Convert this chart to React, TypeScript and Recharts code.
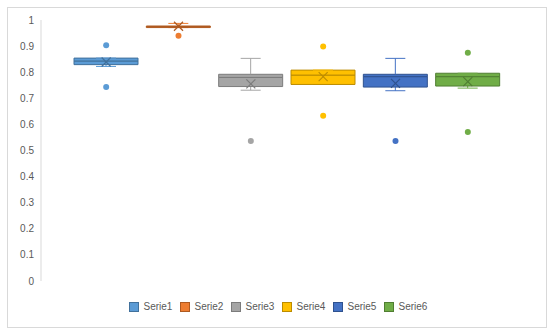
import { Bar, Cell, ComposedChart, Scatter, XAxis, YAxis } from "recharts";

const categories = ["Serie1", "Serie2", "Serie3", "Serie4", "Serie5", "Serie6"];
const fills = ["#5B9BD5", "#ED7D31", "#A5A5A5", "#FFC000", "#4472C4", "#70AD47"];
const strokes = ["#41719C", "#AE5A21", "#7C7C7C", "#BC8C00", "#2F528F", "#507E32"];

// box plot statistics
const whiskerLow = [0.822, 0.971, 0.731, 0.753, 0.729, 0.739];
const quartile1 = [0.829, 0.971, 0.745, 0.753, 0.743, 0.747];
const medians = [0.843, 0.975, 0.78, 0.789, 0.783, 0.783];
const quartile3 = [0.854, 0.977, 0.792, 0.808, 0.792, 0.796];
const whiskerHigh = [0.854, 0.987, 0.853, 0.808, 0.853, 0.796];
const means = [0.839, 0.976, 0.755, 0.783, 0.757, 0.764];
const highOutliers = [0.903, null, null, 0.898, null, 0.875];
const lowOutliers = [0.743, 0.94, 0.536, 0.633, 0.536, 0.571];

const yTicks = [0, 0.1, 0.2, 0.3, 0.4, 0.5, 0.6, 0.7, 0.8, 0.9, 1];

const data = categories.map((name, i) => ({
	name,
	idx: i,
	base: whiskerLow[i],
	lowWhisker: quartile1[i] - whiskerLow[i],
	lowerBox: medians[i] - quartile1[i],
	upperBox: quartile3[i] - medians[i],
	highWhisker: whiskerHigh[i] - quartile3[i],
	mean: means[i],
	outHigh: highOutliers[i],
	outLow: lowOutliers[i],
}));

const CAP = 10;

function LowWhisker(props: any) {
	const { x, y, width, height, payload } = props;
	const cx = x + width / 2;
	const bottom = y + height;
	return (
		<g stroke={fills[payload.idx]} strokeWidth={1}>
			<line x1={cx} x2={cx} y1={y} y2={bottom} />
			<line x1={cx - CAP} x2={cx + CAP} y1={bottom} y2={bottom} />
		</g>
	);
}

function HighWhisker(props: any) {
	const { x, y, width, height, payload } = props;
	const cx = x + width / 2;
	return (
		<g stroke={fills[payload.idx]} strokeWidth={1}>
			<line x1={cx} x2={cx} y1={y} y2={y + height} />
			<line x1={cx - CAP} x2={cx + CAP} y1={y} y2={y} />
		</g>
	);
}

function MeanMark(props: any) {
	const { cx, cy, payload } = props;
	const s = 4.5;
	return (
		<g stroke={strokes[payload.idx]} strokeWidth={1.2}>
			<line x1={cx - s} y1={cy - s} x2={cx + s} y2={cy + s} />
			<line x1={cx - s} y1={cy + s} x2={cx + s} y2={cy - s} />
		</g>
	);
}

const outlierDot = (key: "outHigh" | "outLow") => (props: any) => {
	const { cx, cy, payload } = props;
	if (payload[key] == null) return <g />;
	return <circle cx={cx} cy={cy} r={3} fill={fills[payload.idx]} />;
};

export default function App() {
	return (
		<div
			style={{
				position: "absolute",
				left: 7,
				top: 7,
				width: 538,
				height: 319,
				border: "1px solid #d9d9d9",
				background: "#fff",
				fontFamily: "'Liberation Sans', Arial, sans-serif",
			}}
		>
			<ComposedChart
				width={538}
				height={319}
				data={data}
				barSize={64}
				margin={{ top: 12, right: 42, bottom: 46, left: 0 }}
			>
				<XAxis dataKey="name" hide padding={{ left: 29, right: 0 }} />
				<YAxis
					type="number"
					domain={[0, 1]}
					ticks={yTicks}
					width={33}
					tickLine={false}
					tickSize={5}
					axisLine={{ stroke: "#d9d9d9" }}
					tick={{ fill: "#595959", fontSize: 10 }}
				/>
				<Bar dataKey="base" stackId="box" fill="transparent" isAnimationActive={false} />
				<Bar
					dataKey="lowWhisker"
					stackId="box"
					shape={LowWhisker}
					isAnimationActive={false}
				/>
				<Bar dataKey="lowerBox" stackId="box" isAnimationActive={false}>
					{data.map((d) => (
						<Cell key={d.name} fill={fills[d.idx]} stroke={strokes[d.idx]} />
					))}
				</Bar>
				<Bar dataKey="upperBox" stackId="box" isAnimationActive={false}>
					{data.map((d) => (
						<Cell key={d.name} fill={fills[d.idx]} stroke={strokes[d.idx]} />
					))}
				</Bar>
				<Bar
					dataKey="highWhisker"
					stackId="box"
					shape={HighWhisker}
					isAnimationActive={false}
				/>
				<Scatter dataKey="mean" shape={MeanMark} isAnimationActive={false} />
				<Scatter
					dataKey="outHigh"
					shape={outlierDot("outHigh")}
					isAnimationActive={false}
				/>
				<Scatter
					dataKey="outLow"
					shape={outlierDot("outLow")}
					isAnimationActive={false}
				/>
			</ComposedChart>
			<div
				style={{
					position: "absolute",
					top: 293,
					left: 0,
					width: 538,
					display: "flex",
					justifyContent: "center",
					fontSize: 10,
					color: "#595959",
				}}
			>
				{categories.map((name, i) => (
					<div
						key={name}
						style={{
							display: "flex",
							alignItems: "center",
							marginRight: i < categories.length - 1 ? 9 : 0,
						}}
					>
						<span
							style={{
								display: "inline-block",
								width: 8,
								height: 8,
								background: fills[i],
								border: `1px solid ${strokes[i]}`,
								marginRight: 5,
							}}
						/>
						<span style={{ width: 27, whiteSpace: "nowrap" }}>{name}</span>
					</div>
				))}
			</div>
		</div>
	);
}
